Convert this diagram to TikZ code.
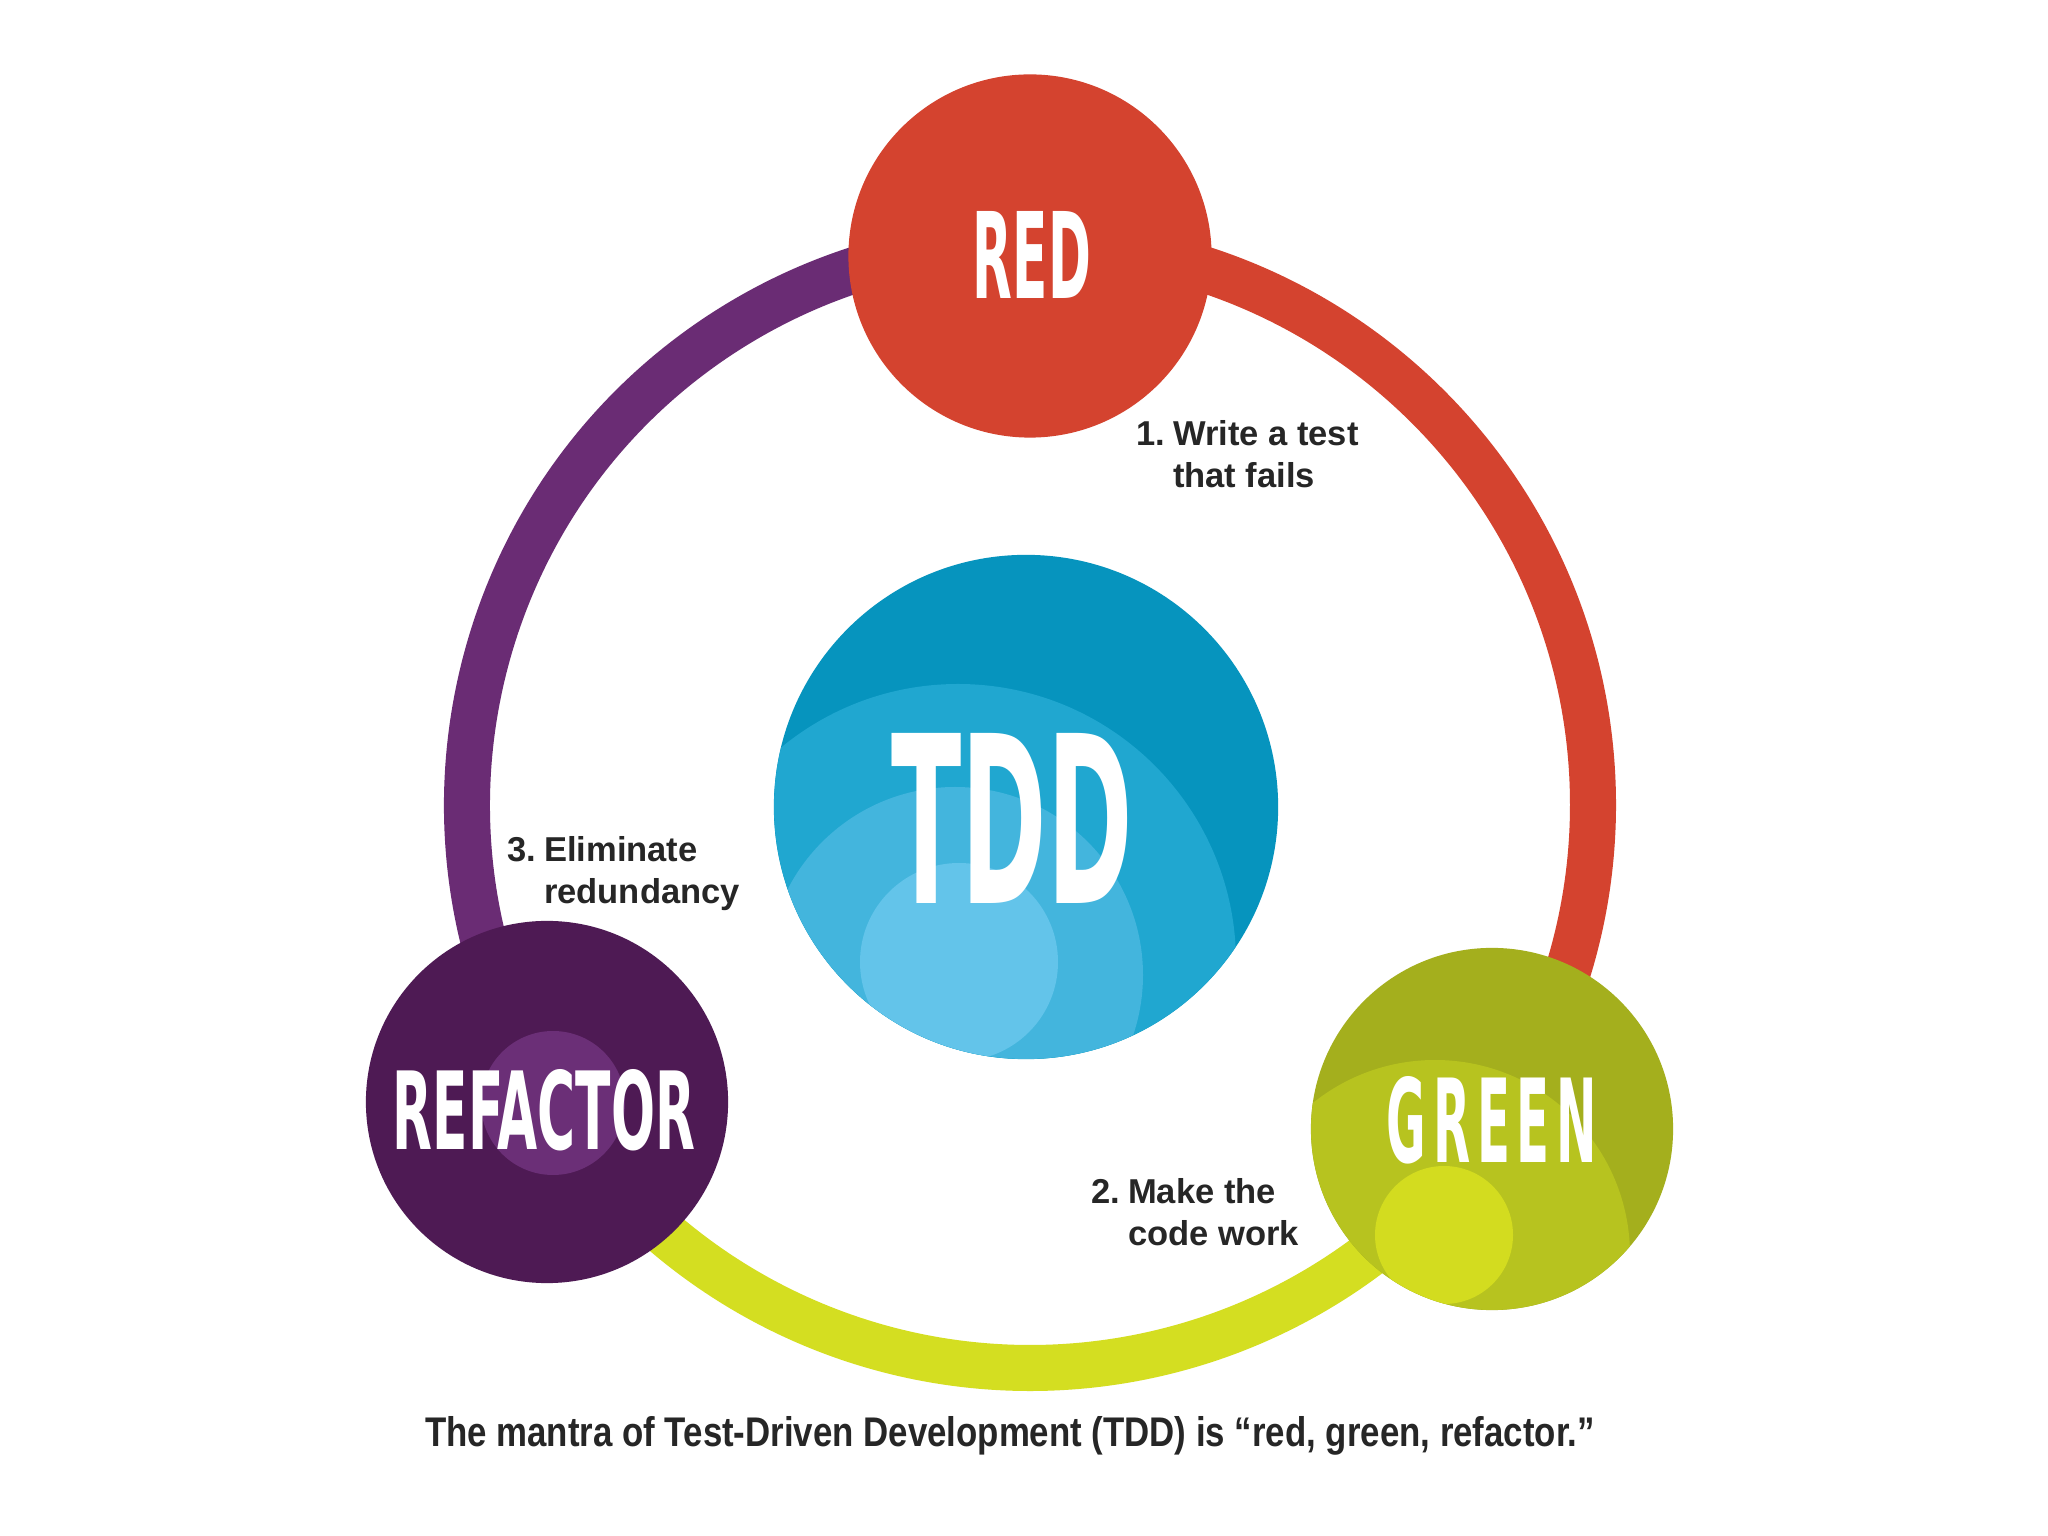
\documentclass[tikz,border=0pt]{standalone}
\usepackage{fontspec}
\setmainfont{Liberation Sans}
\newfontfamily\bigfont{DejaVu Sans}
\usepackage{graphicx}
\definecolor{redc}{HTML}{D4432F}
\definecolor{purplering}{HTML}{6A2C74}
\definecolor{greenring}{HTML}{D4DE21}
\definecolor{refa}{HTML}{4E1A54}
\definecolor{refb}{HTML}{6B2F77}
\definecolor{grna}{HTML}{A4AF1D}
\definecolor{grnb}{HTML}{B7C31F}
\definecolor{grnc}{HTML}{D3DC1F}
\definecolor{tdda}{HTML}{0694BE}
\definecolor{tddb}{HTML}{20A7D0}
\definecolor{tddc}{HTML}{43B5DD}
\definecolor{tddd}{HTML}{63C4EA}
\definecolor{txt}{HTML}{262626}
\tikzset{
  ball/.style={circle, inner sep=0pt, draw=none},
  ringseg/.style={line width=0.46cm, line cap=butt},
  bigword/.style={text=white, inner sep=0pt, font=\bigfont\bfseries},
  steplabel/.style={text=txt, inner sep=0pt, anchor=base west, align=left,
    font=\fontsize{9.82pt}{11.9pt}\selectfont\bfseries},
}
\begin{document}
\begin{tikzpicture}[x=0.01cm,y=0.01cm]
\useasboundingbox (0,0) rectangle (2048,1536);
\fill[white] (0,0) rectangle (2048,1536);
\coordinate (rc) at (1030,731);
% ring
\draw[ringseg, draw=redc] (rc) ++(90:563) arc[start angle=90, end angle=-35, radius=563];
\draw[ringseg, draw=greenring] (rc) ++(-35:563) arc[start angle=-35, end angle=-148.4, radius=563];
\draw[ringseg, draw=purplering] (rc) ++(211.6:563) arc[start angle=211.6, end angle=90, radius=563];
% balls
\node[ball, fill=redc, minimum size=3.63cm] (red) at (1030,1280) {};
\node[ball, fill=grna, minimum size=3.62cm] (green) at (1492,407) {};
\node[ball, fill=refa, minimum size=3.62cm] (refactor) at (547,434) {};
\node[ball, fill=tdda, minimum size=5.04cm] (tdd) at (1026,729) {};
% layers
\begin{scope}
  \clip (tdd.center) circle[radius=252];
  \fill[tddb] (958,574) circle[radius=278];
  \fill[tddc] (955,561) circle[radius=188];
  \fill[tddd] (959,574) circle[radius=99];
\end{scope}
\begin{scope}
  \clip (green.center) circle[radius=181];
  \fill[grnb] (1435,281) circle[radius=195];
  \fill[grnc] (1444,301) circle[radius=69];
\end{scope}
\fill[refb] (553,433) circle[radius=72];
% big words
\node[bigword] (tddword) at (1012,718) {\resizebox{2.41cm}{1.70cm}{TDD}};
\node[bigword] (redword) at (1032,1281) {\resizebox{1.18cm}{0.87cm}{RED}};
\node[bigword] (greenword) at (1492,416) {\resizebox{2.10cm}{0.86cm}{G\kern0.14em R\kern0.14em E\kern0.14em E\kern0.14em N}};
\node[bigword] (refword) at (544,426) {\resizebox{3.02cm}{0.80cm}{REFACTOR}};
% step labels
\node[steplabel] (s1) at (1136,1090) {\begin{tabular}[t]{@{}l@{\hspace{0.22em}}l@{}}1.&Write a test\\&that fails\end{tabular}};
\node[steplabel] (s3) at (507,674) {\begin{tabular}[t]{@{}l@{\hspace{0.22em}}l@{}}3.&Eliminate\\&redundancy\end{tabular}};
\node[steplabel] (s2) at (1091,332) {\begin{tabular}[t]{@{}l@{\hspace{0.22em}}l@{}}2.&Make the\\&code work\end{tabular}};
% caption
\node[text=txt, inner sep=0pt, anchor=base, font=\bfseries] (cap) at (1010,89) {\resizebox{11.69cm}{0.30cm}{The mantra of Test-Driven Development (TDD) is “red, green, refactor.”}};
\end{tikzpicture}
\end{document}
